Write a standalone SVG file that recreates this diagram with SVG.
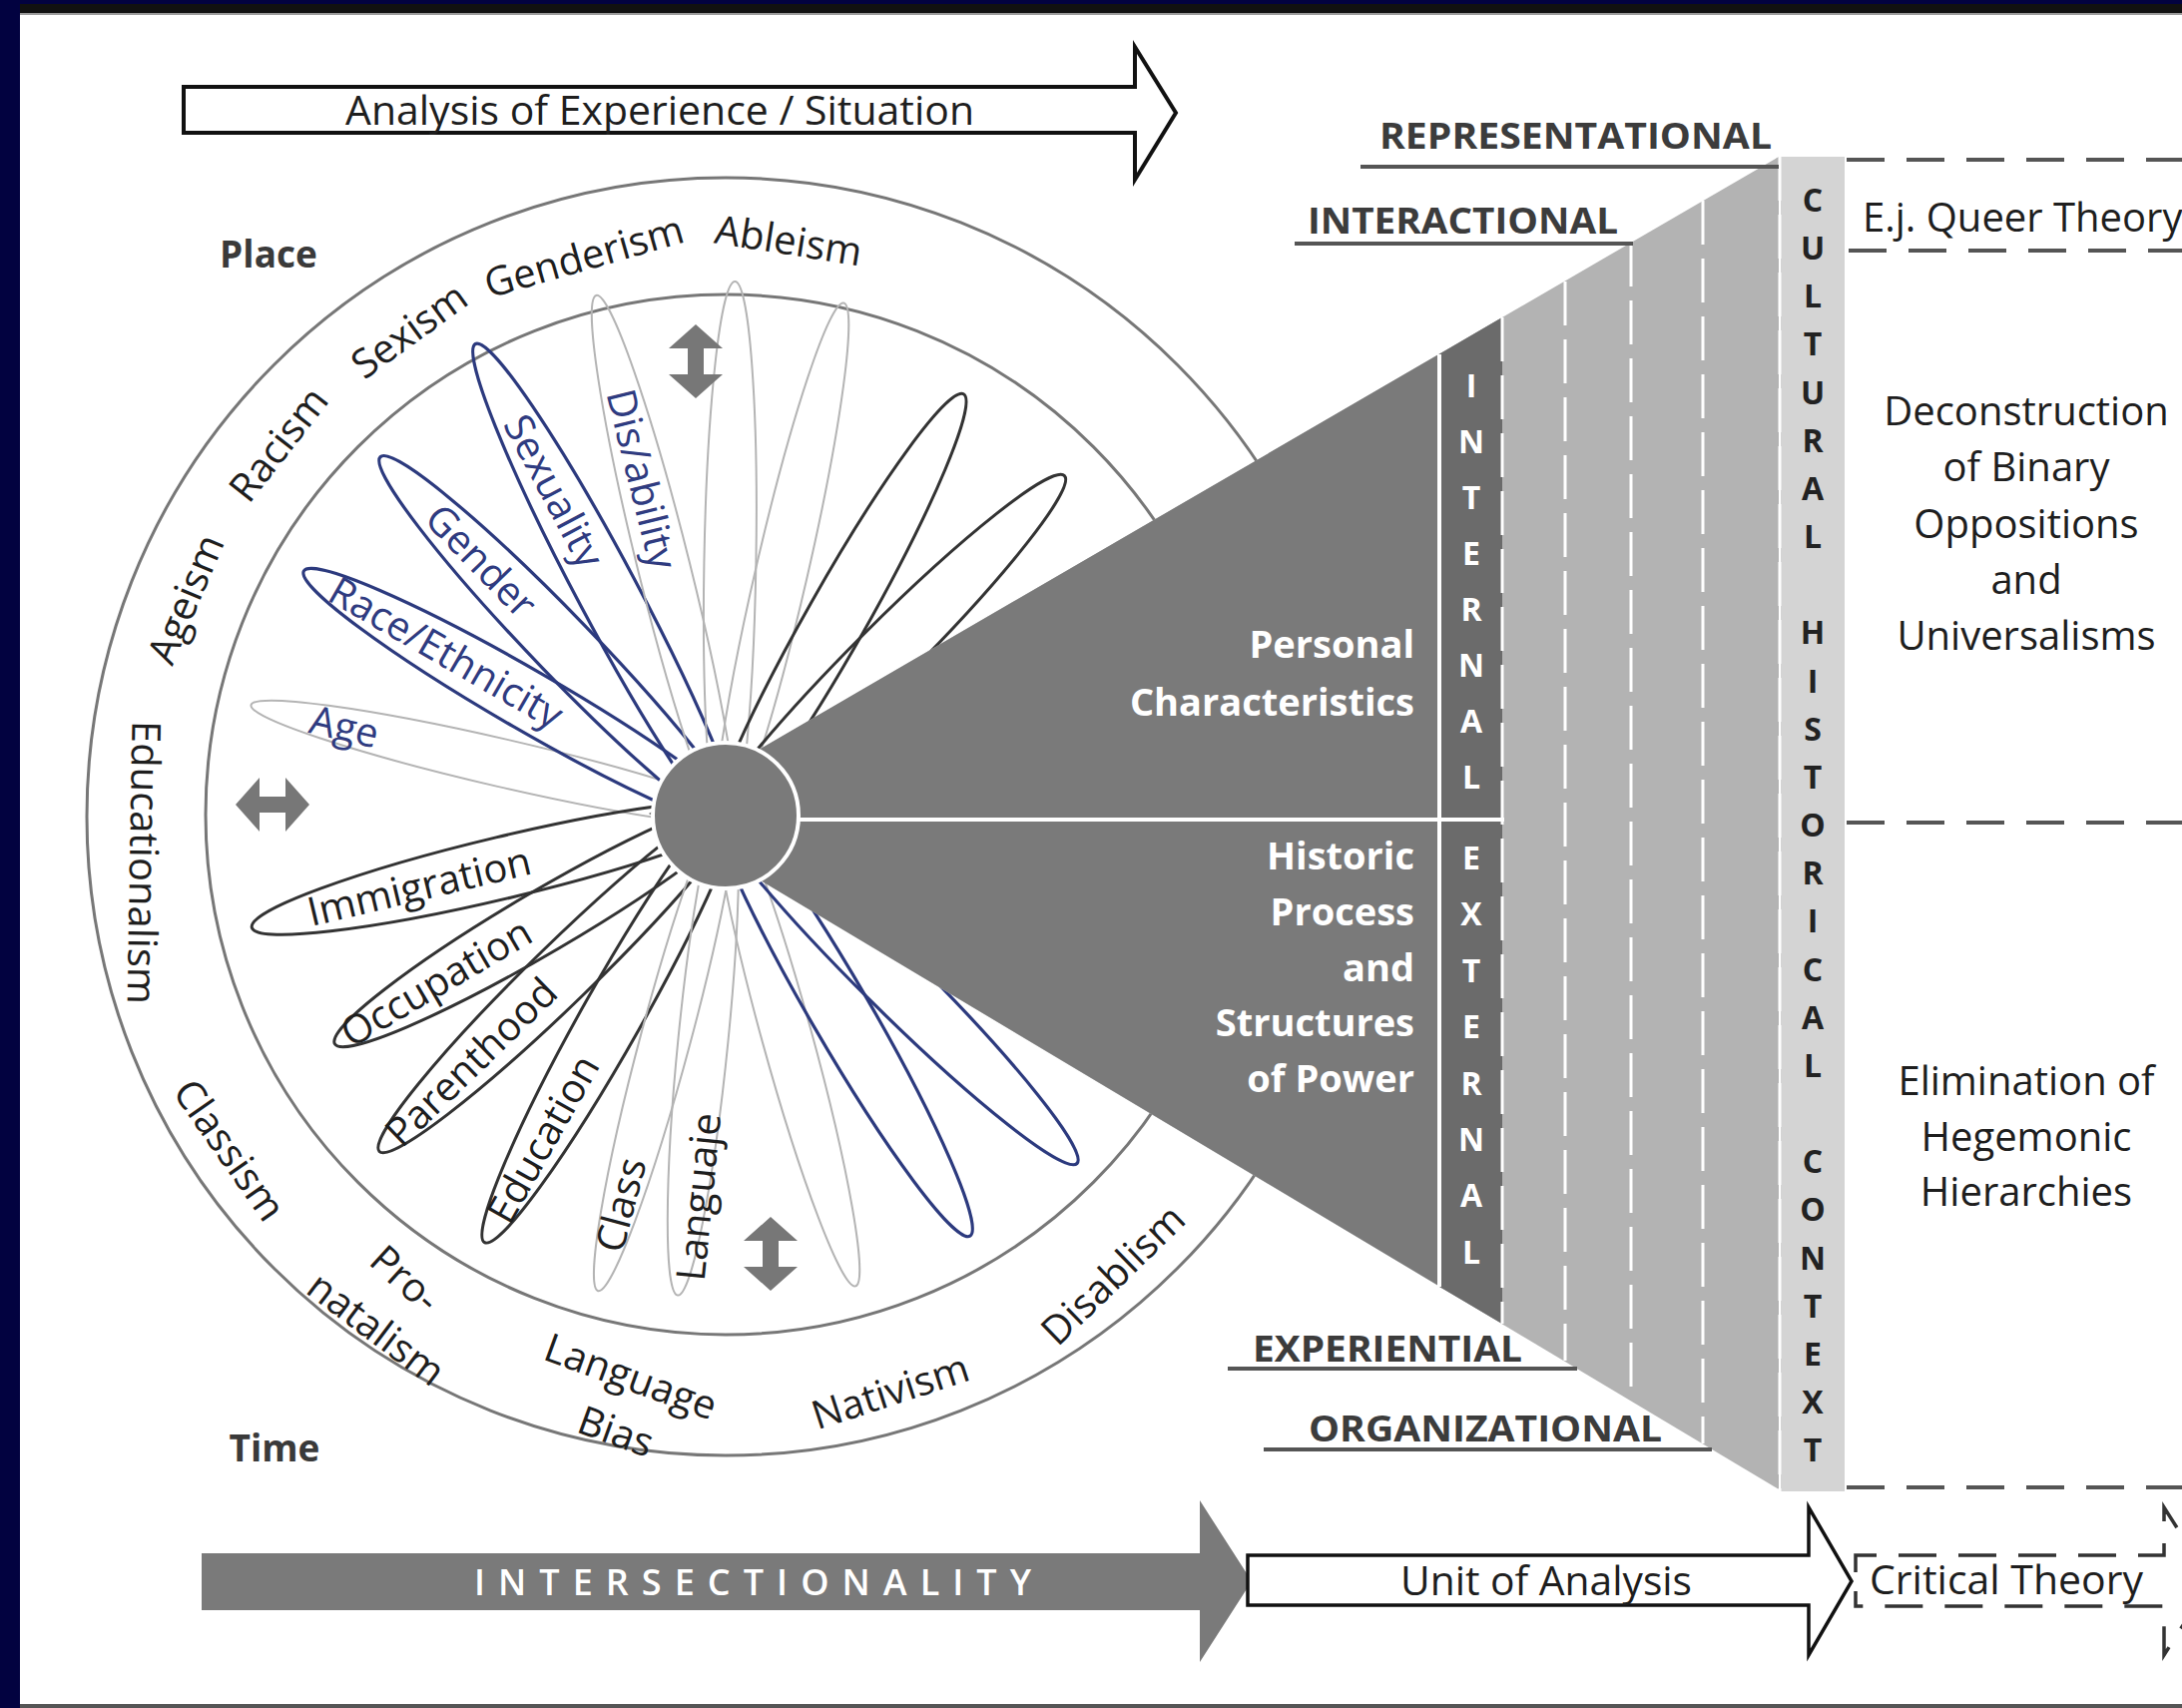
<svg xmlns="http://www.w3.org/2000/svg" xmlns:xlink="http://www.w3.org/1999/xlink" width="2186" height="1711" viewBox="0 0 2186 1711">
  <defs>
    <style>
      .t { font-family: 'Open Sans', 'Liberation Sans', sans-serif; font-size: 40px; fill: #1e1e1e; }
      .b { font-weight: 700; }
      .cap { font-family: 'Open Sans', 'Liberation Sans', sans-serif; font-size: 36px; font-weight: 700; fill: #3c3c3c; }
      .lab { font-family: 'Open Sans', 'Liberation Sans', sans-serif; font-size: 40px; fill: #1e1e1e; text-anchor: middle; }
      .blue { fill: #2f3b80; }
      .wt { font-family: 'Open Sans', 'Liberation Sans', sans-serif; font-size: 38px; font-weight: 700; fill: #ffffff; text-anchor: end; }
      .col { font-family: 'Open Sans', 'Liberation Sans', sans-serif; font-size: 32px; font-weight: 700; fill: #222222; text-anchor: middle; }
      .colw { font-family: 'Open Sans', 'Liberation Sans', sans-serif; font-size: 32px; font-weight: 700; fill: #ffffff; text-anchor: middle; }
      .rt { font-family: 'Open Sans', 'Liberation Sans', sans-serif; font-size: 40px; fill: #1e1e1e; text-anchor: middle; }
      .pt { font-family: 'Open Sans', 'Liberation Sans', sans-serif; font-size: 37px; font-weight: 700; fill: #3a3a3a; text-anchor: middle; }
      .inter { font-family: 'Open Sans', 'Liberation Sans', sans-serif; font-size: 36px; font-weight: 600; fill: #ffffff; text-anchor: middle; }
      .pd { fill: none; stroke: #333333; stroke-width: 3; }
      .pb { fill: none; stroke: #2c3a7e; stroke-width: 3.2; }
      .pg { fill: none; stroke: #b4b4b4; stroke-width: 2; }
      .ring { fill: none; stroke: #777777; stroke-width: 3; }
      .dashw { stroke: #ffffff; stroke-width: 3; stroke-dasharray: 44 14; fill: none; }
      .dashk { stroke: #555555; stroke-width: 4; stroke-dasharray: 38 22; fill: none; }
      .ul { stroke: #555555; stroke-width: 4; }
      .dbl { fill: #777777; }
    </style>
    <path id="dv" d="M0,-37 L27,-13 L8,-13 L8,13 L27,13 L0,37 L-27,13 L-8,13 L-8,-13 L-27,-13 Z"/>
  </defs>

  <!-- frame -->
  <rect x="0" y="0" width="2186" height="1711" fill="#020240"/>
  <rect x="20" y="12" width="2166" height="1696" fill="#ffffff"/>
  <rect x="20" y="4" width="2166" height="9" fill="#111111"/>
  <rect x="20" y="13" width="2166" height="2" fill="#9a9a9a"/>
  <rect x="20" y="1707" width="2166" height="4" fill="#555555"/>

  <!-- top arrow -->
  <g id="analysis-arrow">
    <polygon points="184,87 1137,87 1137,47 1178,113 1137,180 1137,133 184,133" fill="#ffffff" stroke="#111111" stroke-width="4" stroke-linejoin="miter"/>
    <text class="t" x="661" y="125" text-anchor="middle" font-size="38" textLength="630" lengthAdjust="spacingAndGlyphs">Analysis of Experience / Situation</text>
  </g>

  <!-- wheel rings -->
  <g id="wheel">
    <circle class="ring" cx="727" cy="818" r="640"/>
    <circle class="ring" cx="727" cy="816" r="521"/>
  </g>

  <!-- petals -->
  <g id="petals">
    <g transform="translate(727 816)">
      <ellipse class="pg" transform="rotate(-167)" cx="229" cy="0" rx="259" ry="24"/>
      <ellipse class="pb" transform="rotate(-150)" cx="229" cy="0" rx="259" ry="30"/>
      <ellipse class="pb" transform="rotate(-134)" cx="234" cy="0" rx="264" ry="30"/>
      <ellipse class="pb" transform="rotate(-118)" cx="252" cy="0" rx="282" ry="30"/>
      <ellipse class="pg" transform="rotate(-104)" cx="253" cy="0" rx="283" ry="26"/>
      <ellipse class="pg" transform="rotate(-89)" cx="252" cy="0" rx="282" ry="26"/>
      <ellipse class="pg" transform="rotate(-77)" cx="248" cy="0" rx="278" ry="26"/>
      <ellipse class="pd" transform="rotate(-60.5)" cx="227" cy="0" rx="257" ry="30"/>
      <ellipse class="pd" transform="rotate(-45)" cx="225" cy="0" rx="255" ry="30"/>
      <ellipse class="pd" transform="rotate(166.6)" cx="229" cy="0" rx="259" ry="31"/>
      <ellipse class="pd" transform="rotate(149.6)" cx="212" cy="0" rx="242" ry="31"/>
      <ellipse class="pd" transform="rotate(135.8)" cx="227" cy="0" rx="257" ry="30"/>
      <ellipse class="pd" transform="rotate(119.4)" cx="231" cy="0" rx="261" ry="30"/>
      <ellipse class="pg" transform="rotate(105)" cx="232" cy="0" rx="262" ry="25"/>
      <ellipse class="pg" transform="rotate(95.7)" cx="227" cy="0" rx="257" ry="25"/>
      <ellipse class="pg" transform="rotate(74.6)" cx="230" cy="0" rx="260" ry="25"/>
      <ellipse class="pb" transform="rotate(59.9)" cx="229" cy="0" rx="259" ry="30"/>
      <ellipse class="pb" transform="rotate(44.8)" cx="233" cy="0" rx="263" ry="30"/>
    </g>
  </g>

  <!-- wedge of levels -->
  <g id="wedge">
    <polygon points="650,815 1782,157 1782,1492" fill="#b3b3b3"/>
    <polygon points="650,815 1505,318 1505,1326" fill="#7a7a7a"/>
    <polygon points="1442,355 1505,318 1505,1326 1442,1289" fill="#6b6b6b"/>
    <line x1="1442" y1="355" x2="1442" y2="1289" stroke="#ffffff" stroke-width="4"/>
    <line x1="790" y1="821" x2="1507" y2="821" stroke="#ffffff" stroke-width="4"/>
    <line class="dashw" x1="1505" y1="318" x2="1505" y2="1326"/>
    <line class="dashw" x1="1568" y1="282" x2="1568" y2="1363"/>
    <line class="dashw" x1="1634" y1="243" x2="1634" y2="1403"/>
    <line class="dashw" x1="1706" y1="201" x2="1706" y2="1446"/>
  </g>

  <!-- centre -->
  <g id="centre">
    <circle cx="727" cy="817" r="73" fill="#7a7a7a" stroke="#ffffff" stroke-width="4"/>
  </g>

  <!-- cultural historical context column -->
  <g id="context-column">
    <rect x="1784" y="157" width="64" height="1337" fill="#d4d4d4"/>
    <line class="dashw" x1="1783" y1="157" x2="1783" y2="1494"/>
    <g class="col">
      <text x="1816" y="212">C</text>
      <text x="1816" y="260">U</text>
      <text x="1816" y="308">L</text>
      <text x="1816" y="356">T</text>
      <text x="1816" y="405">U</text>
      <text x="1816" y="453">R</text>
      <text x="1816" y="501">A</text>
      <text x="1816" y="549">L</text>
      <text x="1816" y="645">H</text>
      <text x="1816" y="694">I</text>
      <text x="1816" y="742">S</text>
      <text x="1816" y="790">T</text>
      <text x="1816" y="838">O</text>
      <text x="1816" y="886">R</text>
      <text x="1816" y="934">I</text>
      <text x="1816" y="983">C</text>
      <text x="1816" y="1031">A</text>
      <text x="1816" y="1079">L</text>
      <text x="1816" y="1175">C</text>
      <text x="1816" y="1223">O</text>
      <text x="1816" y="1272">N</text>
      <text x="1816" y="1320">T</text>
      <text x="1816" y="1368">E</text>
      <text x="1816" y="1416">X</text>
      <text x="1816" y="1464">T</text>
    </g>
  </g>

  <!-- internal / external strip -->
  <g id="internal-external">
    <g class="colw">
      <text x="1474" y="398">I</text>
      <text x="1474" y="454">N</text>
      <text x="1474" y="510">T</text>
      <text x="1474" y="566">E</text>
      <text x="1474" y="622">R</text>
      <text x="1474" y="678">N</text>
      <text x="1474" y="734">A</text>
      <text x="1474" y="790">L</text>
      <text x="1474" y="871">E</text>
      <text x="1474" y="927">X</text>
      <text x="1474" y="984">T</text>
      <text x="1474" y="1040">E</text>
      <text x="1474" y="1097">R</text>
      <text x="1474" y="1153">N</text>
      <text x="1474" y="1209">A</text>
      <text x="1474" y="1266">L</text>
    </g>
  </g>

  <g id="personal">
    <text class="wt" x="1417" y="659">Personal</text>
    <text class="wt" x="1417" y="717">Characteristics</text>
  </g>
  <g id="historic">
    <text class="wt" x="1417" y="871">Historic</text>
    <text class="wt" x="1417" y="927">Process</text>
    <text class="wt" x="1417" y="983">and</text>
    <text class="wt" x="1417" y="1038">Structures</text>
    <text class="wt" x="1417" y="1094">of Power</text>
  </g>

  <!-- level labels -->
  <g id="levels">
    <text class="cap" x="1382" y="149" textLength="393" lengthAdjust="spacingAndGlyphs">REPRESENTATIONAL</text>
    <line class="ul" x1="1363" y1="167" x2="1782" y2="167"/>
    <text class="cap" x="1310" y="234" textLength="311" lengthAdjust="spacingAndGlyphs">INTERACTIONAL</text>
    <line class="ul" x1="1297" y1="244" x2="1636" y2="244"/>
    <text class="cap" x="1255" y="1364" textLength="270" lengthAdjust="spacingAndGlyphs">EXPERIENTIAL</text>
    <line class="ul" x1="1230" y1="1371" x2="1580" y2="1371"/>
    <text class="cap" x="1311" y="1444" textLength="354" lengthAdjust="spacingAndGlyphs">ORGANIZATIONAL</text>
    <line class="ul" x1="1266" y1="1452" x2="1715" y2="1452"/>
  </g>

  <!-- theory side -->
  <g id="theory">
    <line class="dashk" x1="1850" y1="160" x2="2186" y2="160"/>
    <line class="dashk" x1="1852" y1="251" x2="2186" y2="251"/>
    <line class="dashk" x1="1850" y1="824" x2="2186" y2="824"/>
    <line class="dashk" x1="1850" y1="1490" x2="2186" y2="1490"/>
    <text class="t" x="1866" y="232">E.j. Queer Theory</text>
    <text class="rt" x="2030" y="426">Deconstruction</text>
    <text class="rt" x="2030" y="482">of Binary</text>
    <text class="rt" x="2030" y="539">Oppositions</text>
    <text class="rt" x="2030" y="595">and</text>
    <text class="rt" x="2030" y="651">Universalisms</text>
    <text class="rt" x="2030" y="1097">Elimination of</text>
    <text class="rt" x="2030" y="1153">Hegemonic</text>
    <text class="rt" x="2030" y="1208">Hierarchies</text>
  </g>

  <!-- petal labels -->
  <g id="petal-labels">
    <text class="lab blue" transform="translate(345 728) rotate(13)" dy="0.35em">Age</text>
    <text class="lab blue" transform="translate(447 654) rotate(30)" dy="0.35em">Race/Ethnicity</text>
    <text class="lab blue" transform="translate(482 562) rotate(46)" dy="0.35em">Gender</text>
    <text class="lab blue" transform="translate(555 492) rotate(62)" dy="0.35em">Sexuality</text>
    <text class="lab blue" transform="translate(643 480) rotate(76)" dy="0.35em">Dis/ability</text>
    <text class="lab" transform="translate(420 888) rotate(-13.4)" dy="0.35em">Immigration</text>
    <text class="lab" transform="translate(437 984) rotate(-30.4)" dy="0.35em">Occupation</text>
    <text class="lab" transform="translate(472 1064) rotate(-44.2)" dy="0.35em">Parenthood</text>
    <text class="lab" transform="translate(544 1141) rotate(-60.6)" dy="0.35em">Education</text>
    <text class="lab" transform="translate(622 1207) rotate(-75)" dy="0.35em">Class</text>
    <text class="lab" transform="translate(700 1199) rotate(-84.3)" dy="0.35em">Languaje</text>
  </g>

  <!-- ring labels -->
  <g id="ring-labels">
    <text class="lab" transform="translate(410 331) rotate(-36)" dy="0.35em">Sexism</text>
    <text class="lab" transform="translate(585 257) rotate(-16)" dy="0.35em">Genderism</text>
    <text class="lab" transform="translate(790 241) rotate(9)" dy="0.35em">Ableism</text>
    <text class="lab" transform="translate(279 445) rotate(-52)" dy="0.35em">Racism</text>
    <text class="lab" transform="translate(186 600) rotate(-67)" dy="0.35em">Ageism</text>
    <text class="lab" transform="translate(144 864) rotate(91)" dy="0.35em">Educationalism</text>
    <text class="lab" transform="translate(230 1152) rotate(55)" dy="0.35em">Classism</text>
    <text class="lab" transform="translate(406 1281) rotate(42)" dy="0.35em">Pro-</text>
    <text class="lab" transform="translate(377 1331) rotate(37)" dy="0.35em">natalism</text>
    <text class="lab" transform="translate(632 1379) rotate(20)" dy="0.35em">Language</text>
    <text class="lab" transform="translate(617 1434) rotate(20)" dy="0.35em">Bias</text>
    <text class="lab" transform="translate(892 1394) rotate(-18)" dy="0.35em">Nativism</text>
    <text class="lab" transform="translate(1115 1277) rotate(-44)" dy="0.35em">Disablism</text>
    <text class="pt" x="269" y="268">Place</text>
    <text class="pt" x="275" y="1464">Time</text>
  </g>

  <!-- movement arrows -->
  <g id="movement">
    <use xlink:href="#dv" class="dbl" transform="translate(697 362)"/>
    <use xlink:href="#dv" class="dbl" transform="translate(273 806) rotate(90)"/>
    <use xlink:href="#dv" class="dbl" transform="translate(772 1256)"/>
  </g>

  <!-- bottom arrows -->
  <g id="intersectionality">
    <polygon points="202,1556 1202,1556 1202,1503 1254,1584 1202,1665 1202,1613 202,1613" fill="#7a7a7a"/>
    <text class="inter" x="754" y="1598" textLength="558" lengthAdjust="spacing">INTERSECTIONALITY</text>
  </g>
  <g id="unit-of-analysis">
    <polygon points="1250,1558 1812,1558 1812,1510 1855,1584 1812,1658 1812,1608 1250,1608" fill="#ffffff" stroke="#111111" stroke-width="3.5"/>
    <text class="t" x="1549" y="1598" text-anchor="middle" font-size="38" textLength="292" lengthAdjust="spacingAndGlyphs">Unit of Analysis</text>
  </g>
  <g id="critical-theory">
    <path d="M1859,1575 V1558 H2168 V1510 L2215,1584 L2168,1658 V1609 H1859 V1594" fill="none" stroke="#333333" stroke-width="3.5" stroke-dasharray="38 22"/>
    <text class="t" x="2010" y="1597" text-anchor="middle" font-size="38" textLength="274" lengthAdjust="spacingAndGlyphs">Critical Theory</text>
  </g>
</svg>
